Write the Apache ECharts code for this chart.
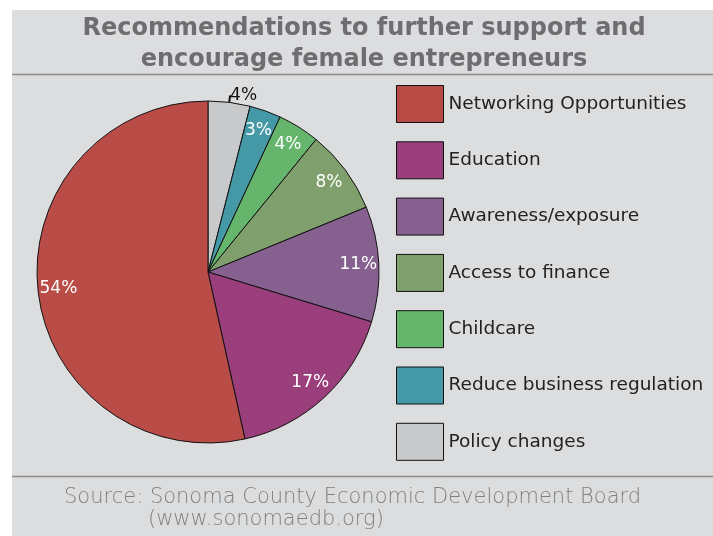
<!DOCTYPE html>
<html>
<head>
<meta charset="utf-8">
<script src="https://cdn.jsdelivr.net/npm/echarts@6/dist/echarts.min.js"></script>
<style>
  html, body { margin: 0; padding: 0; background: #ffffff; }
  #chart { width: 713px; height: 536px; }
</style>
</head>
<body>
<div id="chart"></div>
<script>
// Survey answers, listed clockwise from 12 o'clock
const categories = [
  'Policy changes',
  'Reduce business regulation',
  'Childcare',
  'Access to finance',
  'Awareness/exposure',
  'Education',
  'Networking Opportunities'
];
const shares = [4, 3, 4, 8, 11, 17, 54];
const sliceColors = ['#c8c9cb', '#4598a5', '#66b56c', '#7f9f6c', '#86618f', '#9a3e7c', '#b94c46'];
// Legend reads top to bottom in the reverse order
const legendOrder = categories.slice().reverse();

const titleText = 'Recommendations to further support and\nencourage female entrepreneurs';
const sourceLine1 = 'Source: Sonoma County Economic Development Board';
const sourceLine2 = '(www.sonomaedb.org)';

const font = '"DejaVu Sans", "Noto Sans", sans-serif';
const center = [208, 272];
const radius = 171;

const pieData = categories.map((name, i) => ({
  name: name,
  value: shares[i],
  itemStyle: { color: sliceColors[i] }
}));

const chart = echarts.init(document.getElementById('chart'), null, { renderer: 'canvas' });

chart.setOption({
  backgroundColor: '#ffffff',
  animation: false,
  graphic: [
    { type: 'rect', z: -10, shape: { x: 12, y: 10, width: 701, height: 526 }, style: { fill: '#dcdddf' } },
    { type: 'line', z: 5, shape: { x1: 12, y1: 74.5, x2: 713, y2: 74.5 }, style: { stroke: '#8c8c8c', lineWidth: 1.5 } },
    { type: 'line', z: 5, shape: { x1: 12, y1: 476.5, x2: 713, y2: 476.5 }, style: { stroke: '#8c8c8c', lineWidth: 1.5 } },
    {
      type: 'text', left: 64, top: 487,
      style: { text: sourceLine1, fill: '#808080', font: '200 21px ' + font }
    },
    {
      type: 'text', left: 148, top: 509,
      style: { text: sourceLine2, fill: '#808080', font: '200 21px ' + font }
    }
  ],
  title: {
    text: titleText,
    left: 359, top: 8, textAlign: 'center',
    textStyle: { color: '#6e6e70', fontSize: 24, fontWeight: 'bold', fontFamily: font, lineHeight: 31 }
  },
  legend: {
    orient: 'vertical',
    left: 396, top: 85,
    padding: 0,
    itemWidth: 47, itemHeight: 37, itemGap: 18.3,
    data: legendOrder,
    icon: 'rect',
    selectedMode: false,
    textStyle: { color: '#222222', fontSize: 18.5, fontFamily: font },
    itemStyle: { borderColor: '#111111', borderWidth: 1 }
  },
  series: [
    {
      name: 'slices',
      type: 'pie',
      center: center,
      radius: [0, radius],
      startAngle: 90,
      clockwise: true,
      avoidLabelOverlap: false,
      data: pieData.map((d, i) => Object.assign({}, d, i === 0 ? {
        label: { show: true, position: 'outside', formatter: '{c}%', color: '#111111', fontSize: 17, fontFamily: font, distanceToLabelLine: 0 },
        labelLine: { show: true, length: 7, length2: 0, lineStyle: { color: '#111111', width: 2 } }
      } : {})),
      itemStyle: { borderColor: '#111111', borderWidth: 1 },
      label: { show: false },
      labelLine: { show: false },
      emphasis: { disabled: true }
    },
    {
      // value labels placed in the outer ring of the pie
      name: 'labels',
      type: 'pie',
      center: center,
      radius: [124, radius],
      startAngle: 90,
      clockwise: true,
      silent: true,
      avoidLabelOverlap: false,
      data: pieData.map((d, i) => ({
        name: d.name,
        value: d.value,
        itemStyle: { color: 'rgba(0,0,0,0)', borderWidth: 0 },
        label: { show: i !== 0 }
      })),
      label: { position: 'inside', formatter: '{c}%', color: '#ffffff', fontSize: 17, fontFamily: font },
      labelLine: { show: false },
      emphasis: { disabled: true },
      legendHoverLink: false
    }
  ]
});
</script>
</body>
</html>
